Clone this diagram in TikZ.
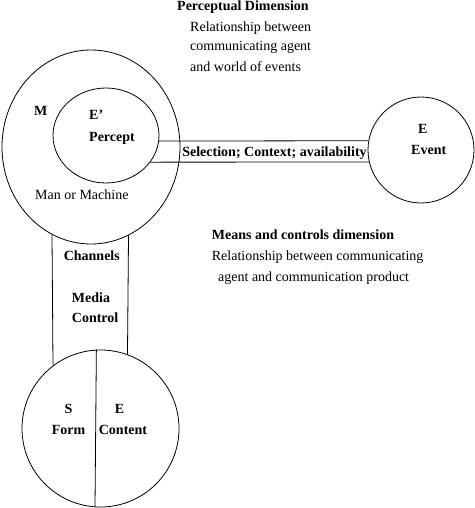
\documentclass[tikz,border=0pt]{standalone}
\usepackage{fontspec}
\setmainfont{Liberation Serif}
\usetikzlibrary{calc,shapes.geometric}

\begin{document}
\begin{tikzpicture}[x=1pt,y=-1pt,
  every node/.style={inner sep=0pt,font=\fontsize{14}{20}\selectfont},
  blob/.style={draw,ellipse,thick},
  bold/.style={font=\fontsize{14}{20}\selectfont\bfseries}]
\useasboundingbox (0,0) rectangle (474,508);

\draw node [blob,minimum width=178pt,minimum height=194pt](mm) at (91,147){};
\draw node [blob,minimum width=106pt,minimum height=95pt](percept) at (106,135.5){};
\draw node [blob,circle,minimum size=106pt](event) at (421,150){};
\draw node [blob,circle,minimum size=157pt](product) at (100.5,428.5){};

% band between percept and event
\draw[thick] (percept.-6) -- (event.170.2);
\draw[thick] (percept.-31) -- (event.193.1);

% channels
\draw[thick] (mm.246.6) -- (product.127.2);
\draw[thick] (mm.-67.9) -- (product.70.3);
\draw[thick] (product.93.3) -- (product.266.7);

\draw node [bold,anchor=base] (pdtitle) at (243,10.5){Perceptual Dimension};
\draw node [anchor=base west] (pdone) at (190,31.5){Relationship between};
\draw node [anchor=base west] (pdtwo) at (190,51){communicating agent};
\draw node [anchor=base west] (pdthree) at (190,71.5){and world of events};

\draw node [bold,anchor=base west] (mlabel) at ($ (mm) + (-57,-32) $){M};
\draw node [bold,anchor=base west] (elabel) at ($ (percept) + (-17,-15.5) $){E'};
\draw node [bold,anchor=base west] (plabel) at ($ (percept) + (-17,6.2) $){Percept};
\draw node [anchor=base west] (manlabel) at ($ (mm) + (-56,52) $){Man or Machine};

\draw node [bold,anchor=base] (sel) at (274.5,156.7){Selection; Context; availability};

\draw node [bold,anchor=base] (evE) at ($ (event) + (1.7,-16.7) $){E};
\draw node [bold,anchor=base] (evlabel) at ($ (event) + (7.7,4) $){Event};

\draw node [bold,anchor=base west] (mctitle) at (211.7,239){Means and controls dimension};
\draw node [anchor=base west] (mcone) at (211.7,260){Relationship between communicating};
\draw node [anchor=base west] (mctwo) at (218,281){agent and communication product};

\draw node [bold,anchor=base] (chan) at (91.8,260){Channels};
\draw node [bold,anchor=base west] (media) at (71.7,302.7){Media};
\draw node [bold,anchor=base west] (control) at (71.7,322.7){Control};

\draw node [bold,anchor=base] (slabel) at ($ (product) + (-32,-15.5) $){S};
\draw node [bold,anchor=base] (form) at ($ (product) + (-32,5.5) $){Form};
\draw node [bold,anchor=base] (clabel) at ($ (product) + (19,-15.5) $){E};
\draw node [bold,anchor=base] (content) at ($ (product) + (22.5,5.5) $){Content};

\end{tikzpicture}
\end{document}
